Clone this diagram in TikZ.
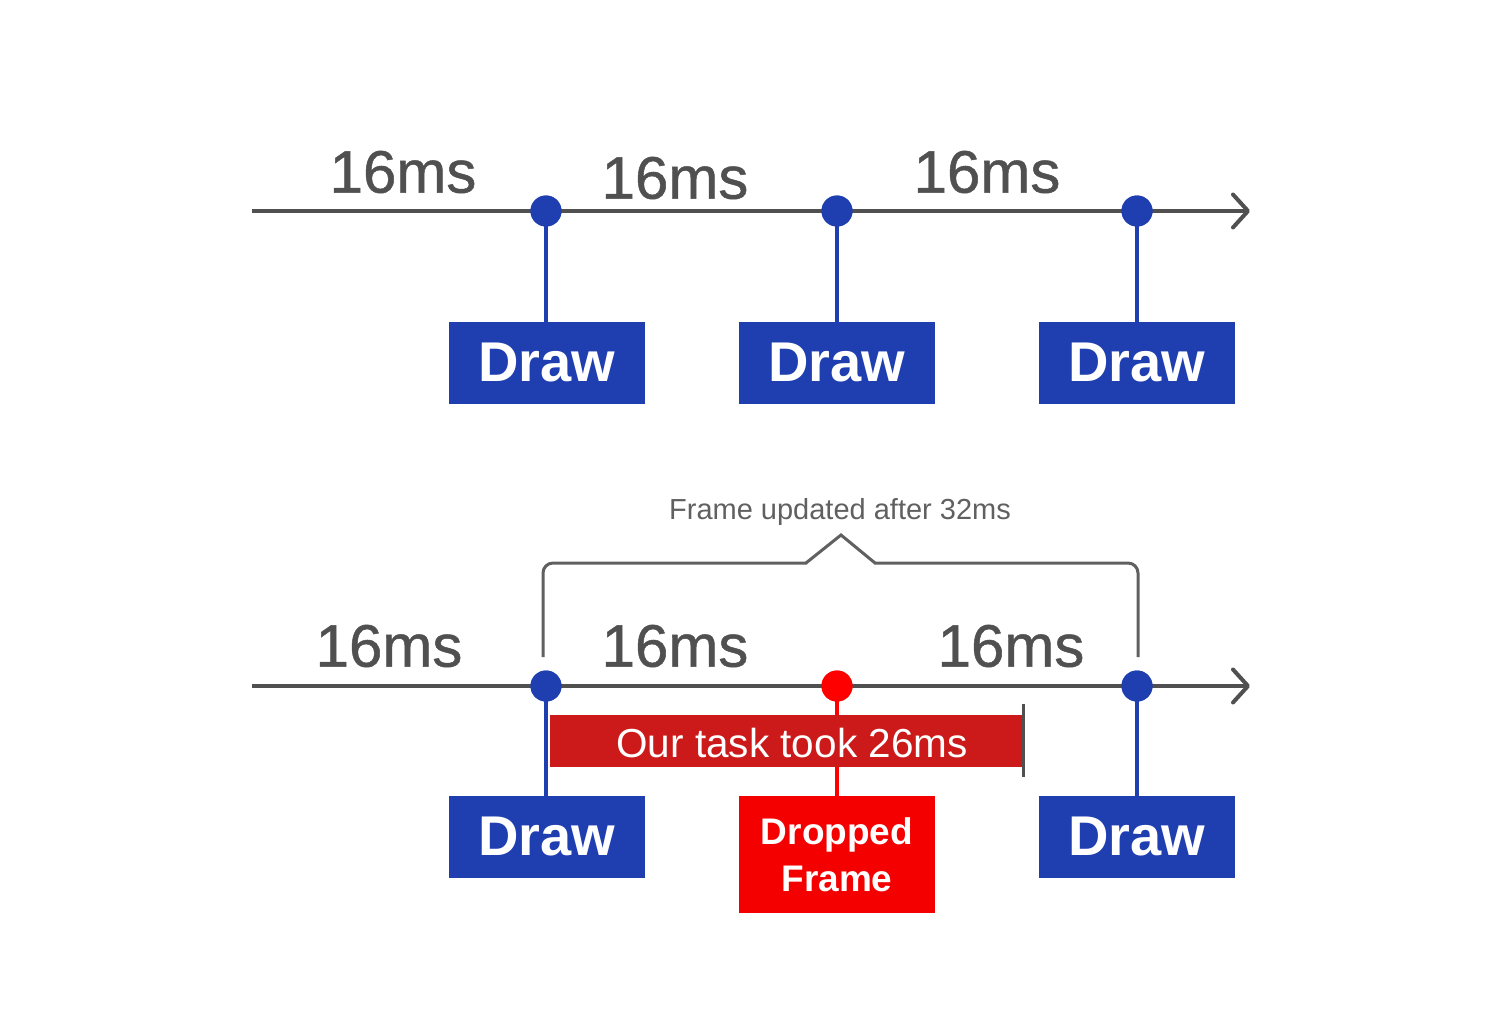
\documentclass[tikz,border=0pt]{standalone}
\usepackage{fontspec}
\setmainfont{Liberation Sans}
\newfontfamily\medfont[FakeBold=0.8]{Liberation Sans}
\usetikzlibrary{arrows.meta}
\definecolor{tlgray}{HTML}{505050}
\definecolor{brgray}{HTML}{606060}
\definecolor{dblue}{HTML}{1F3FB1}
\definecolor{dotred}{HTML}{FF0000}
\definecolor{barred}{HTML}{CC1919}
\definecolor{dropred}{HTML}{F50000}
\tikzset{
  timeline/.style={draw=tlgray, line width=4pt, -{Straight Barb[length=15pt,width=33pt,round]}},
  msl/.style={text=tlgray, font=\medfont\fontsize{60}{60}\selectfont, inner sep=0pt},
  dot/.style={circle, minimum size=31pt, inner sep=0pt},
  bluedot/.style={dot, fill=dblue},
  reddot/.style={dot, fill=dotred},
  bstem/.style={draw=dblue, line width=4pt},
  rstem/.style={draw=dotred, line width=4pt},
  drawbox/.style={fill=dblue, text=white, minimum width=196pt, minimum height=82pt, inner sep=0pt, font=\bfseries\fontsize{56}{56}\selectfont},
  dropbox/.style={fill=dropred, text=white, minimum width=196pt, minimum height=117pt, inner sep=0pt, align=center, font=\bfseries\fontsize{37}{47}\selectfont},
  taskbar/.style={fill=barred, minimum width=472pt, minimum height=52pt, inner sep=0pt},
  tasktext/.style={text=white, inner sep=0pt, font=\fontsize{40.5}{40.5}\selectfont},
  bracket/.style={draw=brgray, line width=3pt, line join=miter},
}
\begin{document}
\begin{tikzpicture}[x=1pt,y=-1pt]
\useasboundingbox (0,0) rectangle (1500,1030);
% ---------- top timeline ----------
\coordinate (s1) at (252,211);
\coordinate (e1) at (1250,211);
\draw[timeline] (s1) -- (e1);
\node[msl] (t1) at (403,172) {16ms};
\node[msl] (t2) at (675,178) {16ms};
\node[msl] (t3) at (987,172) {16ms};
\node[drawbox] (b1) at (547,363) {Draw};
\node[drawbox] (b2) at (837,363) {Draw};
\node[drawbox] (b3) at (1137,363) {Draw};
\node[bluedot] (p1) at (546,211) {};
\node[bluedot] (p2) at (837,211) {};
\node[bluedot] (p3) at (1137,211) {};
\draw[bstem] (p1.center) -- (b1.north -| p1);
\draw[bstem] (p2.center) -- (b2.north -| p2);
\draw[bstem] (p3.center) -- (b3.north -| p3);
\node[bluedot] at (p1) {};
\node[bluedot] at (p2) {};
\node[bluedot] at (p3) {};
% ---------- bottom timeline ----------
\coordinate (s2) at (252,686);
\coordinate (e2) at (1250,686);
\draw[timeline] (s2) -- (e2);
\node[msl] (u1) at (389,646) {16ms};
\node[msl] (u2) at (675,646) {16ms};
\node[msl] (u3) at (1011,646) {16ms};
\node[drawbox] (c1) at (547,837) {Draw};
\node[dropbox] (c2) at (837,854.5) {Dropped\\Frame};
\node[drawbox] (c3) at (1137,837) {Draw};
\node[bluedot] (q1) at (546,686) {};
\node[reddot] (q2) at (837,686) {};
\node[bluedot] (q3) at (1137,686) {};
\draw[bstem] (q1.center) -- (c1.north -| q1);
\draw[rstem] (q2.center) -- (c2.north -| q2);
\draw[bstem] (q3.center) -- (c3.north -| q3);
\node[bluedot] at (q1) {};
\node[reddot] at (q2) {};
\node[bluedot] at (q3) {};
% task bar
\node[taskbar] (task) at (786,741) {};
\node[tasktext] (tasklbl) at (792,743) {Our task took 26ms};
\coordinate (tk1) at (1023,704);
\coordinate (tk2) at (1023,777);
\draw[draw=tlgray, line width=3pt] (tk1) -- (tk2);
% bracket
\coordinate (bl) at (543,657);
\coordinate (br) at (1138,657);
\coordinate (pk) at (841,535);
\coordinate (kl) at (806,563);
\coordinate (kr) at (875,563);
\draw[bracket, rounded corners=10pt] (bl) |- ([xshift=1pt]kl);
\draw[bracket] (kl) -- (pk) -- (kr);
\draw[bracket, rounded corners=10pt] ([xshift=-1pt]kr) -| (br);
\node[text=brgray, font=\fontsize{29}{29}\selectfont, inner sep=0pt] (lbl) at (840,512) {Frame updated after 32ms};
\end{tikzpicture}
\end{document}
